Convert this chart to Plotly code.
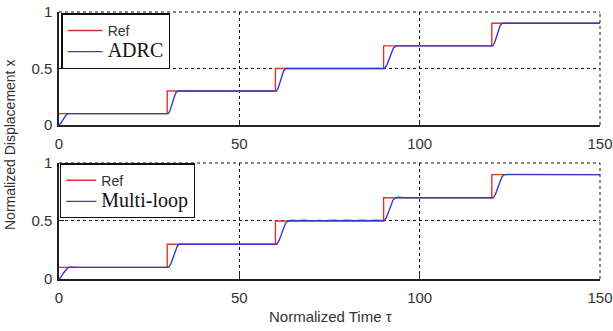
import plotly.graph_objects as go

# Reference (step command)
t_ref = [0, 30, 30, 60, 60, 90, 90, 120, 120, 150]
x_ref = [0.1, 0.1, 0.3, 0.3, 0.5, 0.5, 0.7, 0.7, 0.9, 0.9]

# ADRC response
t_adrc = [0, 0.5, 1.0, 1.5, 2.0, 2.6,
          30.3, 30.8, 31.3, 31.8, 32.3, 32.9,
          60.3, 60.8, 61.3, 61.8, 62.3, 62.9,
          90.3, 90.9, 91.5, 92.1, 92.7, 93.4,
          120.3, 120.8, 121.3, 121.8, 122.3, 122.9, 150]
x_adrc = [0.0, 0.015, 0.04, 0.07, 0.09, 0.1,
          0.1, 0.13, 0.18, 0.24, 0.28, 0.3,
          0.3, 0.33, 0.38, 0.44, 0.48, 0.5,
          0.5, 0.53, 0.58, 0.64, 0.68, 0.7,
          0.7, 0.73, 0.78, 0.84, 0.88, 0.9, 0.9]

# Multi-loop response
t_ml = [0, 0.6, 1.2, 1.8, 2.4, 3.0, 3.6, 5.0,
        30.4, 31.0, 31.6, 32.2, 32.8, 33.4, 34.2, 36.0,
        60.4, 61.0, 61.6, 62.2, 62.8, 63.4, 64.5, 66, 68, 70, 72, 74, 76, 78, 80, 82, 84, 86, 88, 90.2,
        90.8, 91.4, 92.0, 92.6, 93.2, 94.0, 95.5,
        120.4, 121.0, 121.6, 122.2, 122.8, 123.4, 124.5, 150]
x_ml = [0.0, 0.02, 0.05, 0.075, 0.095, 0.104, 0.101, 0.1,
        0.1, 0.13, 0.18, 0.24, 0.285, 0.302, 0.299, 0.3,
        0.3, 0.33, 0.38, 0.44, 0.48, 0.497, 0.506, 0.502, 0.506, 0.501, 0.505, 0.502, 0.506, 0.503, 0.507, 0.502, 0.506, 0.503, 0.507, 0.503,
        0.53, 0.58, 0.64, 0.68, 0.698, 0.704, 0.7,
        0.7, 0.73, 0.78, 0.84, 0.88, 0.898, 0.902, 0.9]

x_ticks = [0, 50, 100, 150]
y_ticks = [0, 0.5, 1]

RED = "#e0322e"
BLUE = "#3a3ac8"
SANS = "Liberation Sans, Arial, sans-serif"
SERIF = "Liberation Serif, Times New Roman, serif"

fig = go.Figure()

def lbl_sans(s):
    return f'<span style="font-family:{SANS};font-size:14px;color:#333">{s}</span>'

def lbl_serif(s):
    return f'<span style="font-family:{SERIF};font-size:20px;color:#111">{s}</span>'

fig.add_trace(go.Scatter(x=t_ref, y=x_ref, mode="lines", line=dict(color=RED, width=1.4),
                         name=lbl_sans("Ref"), legend="legend", xaxis="x", yaxis="y"))
fig.add_trace(go.Scatter(x=t_adrc, y=x_adrc, mode="lines", line=dict(color=BLUE, width=1.4),
                         name=lbl_serif("ADRC"), legend="legend", xaxis="x", yaxis="y"))
fig.add_trace(go.Scatter(x=t_ref, y=x_ref, mode="lines", line=dict(color=RED, width=1.4),
                         name=lbl_sans("Ref"), legend="legend2", xaxis="x2", yaxis="y2"))
fig.add_trace(go.Scatter(x=t_ml, y=x_ml, mode="lines", line=dict(color=BLUE, width=1.4),
                         name=lbl_serif("Multi-loop"), legend="legend2", xaxis="x2", yaxis="y2"))

axis_common = dict(
    showline=True, linecolor="#222", linewidth=1.5, mirror=False,
    showgrid=True, gridcolor="#111", gridwidth=1, griddash="3px,3px",
    ticks="inside", ticklen=5, tickcolor="#222", tickwidth=1.2,
    zeroline=False, automargin=False,
    tickfont=dict(family=SANS, size=15, color="#333"),
)

plot_w = 613 - 59 - 13
plot_h = 331 - 12 - 52

fig.update_layout(
    width=613, height=331,
    margin=dict(l=59, r=13, t=12, b=52, autoexpand=False),
    paper_bgcolor="white", plot_bgcolor="white",
    showlegend=True,
    xaxis=dict(domain=[0, 1], range=[0, 150], tickvals=x_ticks, anchor="y",
               ticklabelstandoff=4, **axis_common),
    yaxis=dict(domain=[0.577, 1], range=[0, 1], tickvals=y_ticks, ticktext=["0", "0.5", "1"],
               anchor="x", ticklabelstandoff=2, **axis_common),
    xaxis2=dict(domain=[0, 1], range=[0, 150], tickvals=x_ticks, anchor="y2",
                ticklabelstandoff=4, **axis_common),
    yaxis2=dict(domain=[0, 0.4345], range=[0, 1], tickvals=y_ticks, ticktext=["0", "0.5", "1"],
                anchor="x2", ticklabelstandoff=2, **axis_common),
    legend=dict(x=0.004, y=0.995, xanchor="left", yanchor="top",
                bgcolor="white", bordercolor="#111", borderwidth=1.5,
                tracegroupgap=0, itemwidth=35, font=dict(size=14),
                ),
    legend2=dict(x=0.002, y=0.4330, xanchor="left", yanchor="top",
                 bgcolor="white", bordercolor="#111", borderwidth=1.2,
                 tracegroupgap=0, itemwidth=30, font=dict(size=14),
                 ),
    annotations=[
        dict(text="Normalized Displacement x", x=(10 - 59) / plot_w, xref="paper",
             y=(279 - 145) / plot_h, yref="paper",
             xanchor="center", yanchor="middle", textangle=-90, showarrow=False,
             font=dict(family=SANS, size=14, color="#333")),
        dict(text="Normalized Time τ", x=(330 - 59) / plot_w, xref="paper",
             y=(279 - 316) / plot_h, yref="paper", xanchor="center", yanchor="middle",
             showarrow=False, font=dict(family=SANS, size=15, color="#333")),
    ],
)

# dashed frame lines at the upper/right range edges (gridlines there are hidden by plotly)
for xr, yr in (("x", "y"), ("x2", "y2")):
    fig.add_shape(type="line", xref=f"{xr} domain", yref=f"{yr} domain", x0=0, x1=1, y0=1, y1=1,
                  line=dict(color="#111", width=1, dash="3px,3px"))
    fig.add_shape(type="line", xref=f"{xr} domain", yref=f"{yr} domain", x0=1, x1=1, y0=0, y1=1,
                  line=dict(color="#111", width=1, dash="3px,3px"))

fig.write_html("out.html")
